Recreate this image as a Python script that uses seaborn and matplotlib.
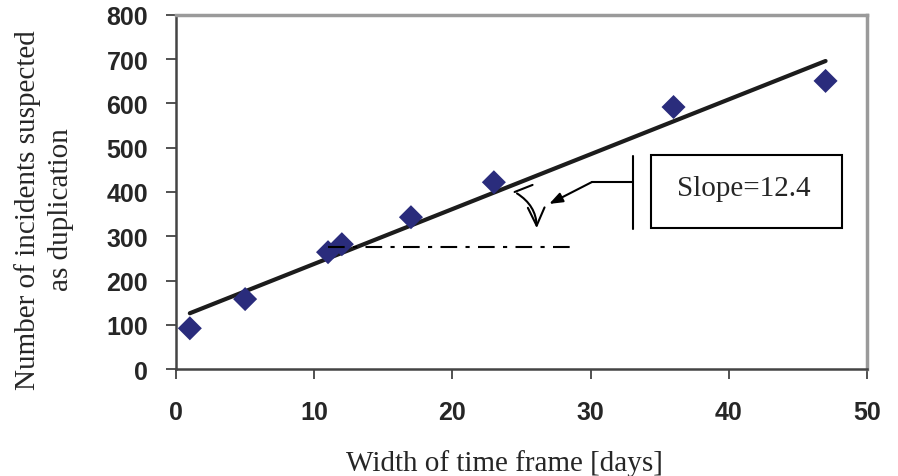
import numpy as np
import pandas as pd
import seaborn as sns
import matplotlib.pyplot as plt
from matplotlib.patches import Rectangle

# data
days = [1, 5, 11, 12, 17, 23, 36, 47]
incidents = [92, 158, 264, 282, 343, 422, 592, 651]

# trend line end points as drawn in the figure
trend_days = [1, 47]
trend_incidents = [126, 696]

# dash-dot reference line
ref_days = [11, 29]
ref_level = 276

slope_text = "Slope=12.4"

sns.set_style("white")
plt.rcParams['font.family'] = ['Liberation Sans', 'DejaVu Sans']

fig = plt.figure(figsize=(8.98, 4.77), dpi=100)
ax = fig.add_axes([0.196, 0.2243, 0.7695, 0.7422])

df = pd.DataFrame({'days': days, 'incidents': incidents})
trend = pd.DataFrame({'days': trend_days, 'incidents': trend_incidents})

sns.lineplot(data=trend, x='days', y='incidents', color='#1c1c1c', linewidth=3.0, ax=ax)
sns.scatterplot(data=df, x='days', y='incidents', marker='D', s=150, color='#2a2c7c',
                edgecolor='none', ax=ax, zorder=3)

# horizontal reference for the slope angle
ax.plot(ref_days, [ref_level, ref_level], color='black', linewidth=1.5,
        linestyle=(0, (8, 4, 2, 4)), zorder=4)

# curved angle arrow
ax.plot([25.8, 24.5], [416, 400], color='black', linewidth=1.5)
ax.annotate('', xy=(26.1, 312), xytext=(24.5, 400),
            arrowprops=dict(arrowstyle='->,head_length=1.3,head_width=0.6',
                            connectionstyle='arc3,rad=-0.3', color='black', lw=1.5))

# callout arrow from the slope box
ax.plot([30.1, 33.1], [422.6, 422.6], color='black', linewidth=1.5)
ax.plot([33.1, 33.1], [481, 316], color='black', linewidth=1.5)
ax.annotate('', xy=(27.0, 373), xytext=(30.1, 422.6),
            arrowprops=dict(arrowstyle='-|>,head_length=0.8,head_width=0.3',
                            color='black', lw=1.5, shrinkA=0, shrinkB=0))

ax.add_patch(Rectangle((34.4, 319), 13.8, 165, fill=False, edgecolor='black', linewidth=1.5))
ax.text(41.1, 410, slope_text, ha='center', va='center', fontsize=21,
        family=['Liberation Serif', 'DejaVu Serif'])

ax.set_xlim(0, 50)
ax.set_ylim(0, 800)
ax.set_xticks(range(0, 51, 10))
ax.set_yticks(range(0, 801, 100))
ax.tick_params(axis='both', length=7, width=1.2, color='#333333', labelsize=18, direction='out')
ax.tick_params(axis='y', pad=13)
ax.tick_params(axis='x', pad=15)
for lbl in ax.get_xticklabels() + ax.get_yticklabels():
    lbl.set_fontweight('bold')
ax.xaxis.set_ticks_position('bottom')
ax.yaxis.set_ticks_position('left')

for side in ['top', 'right']:
    ax.spines[side].set_color('#9a9a9a')
    ax.spines[side].set_linewidth(2.5)
for side in ['left', 'bottom']:
    ax.spines[side].set_color('#444444')
    ax.spines[side].set_linewidth(1.8)

serif = ['Liberation Serif', 'DejaVu Serif']
ax.set_xlabel('Width of time frame [days]', fontsize=21, family=serif, va='center')
ax.set_ylabel('Number of incidents suspected\nas duplication', fontsize=21, family=serif,
              va='center', linespacing=1.35)
ax.xaxis.set_label_coords(0.476, -0.263)
ax.yaxis.set_label_coords(-0.191, 0.452)

fig.savefig('out.png', dpi=100)
